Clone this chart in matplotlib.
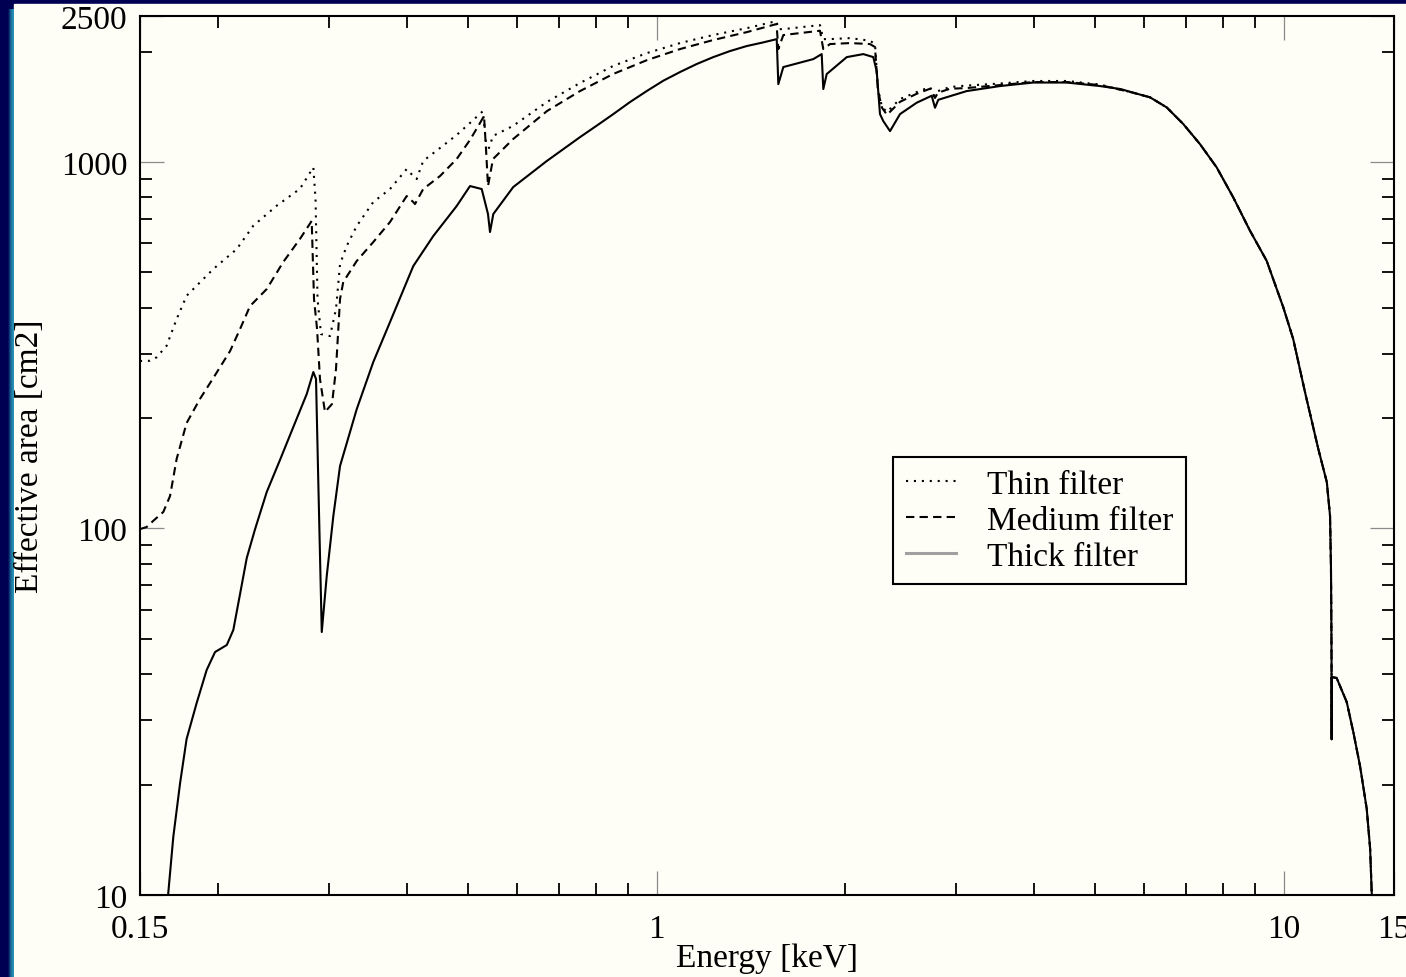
import numpy as np
import matplotlib
matplotlib.use("Agg")
import matplotlib.pyplot as plt
from matplotlib.patches import Rectangle
from matplotlib.ticker import FixedLocator, NullFormatter
from matplotlib.colors import LinearSegmentedColormap

# ---------------- data (energy keV, effective area cm2) ----------------
# high-energy part where the three curves coincide
E_tail = [5.758, 6.123, 6.510, 6.919, 7.356, 7.821, 8.312, 8.839, 9.398, 9.989,
          10.36, 10.82, 11.36, 11.72, 11.86, 11.90, 11.92, 11.925, 11.93, 11.935,
          12.15, 12.61, 12.92, 13.24, 13.57, 13.74, 13.82, 13.90]
A_tail = [1544, 1500, 1408, 1268, 1118, 966, 800, 649, 537, 401,
          328.5, 235.1, 164.7, 133.8, 108.1, 79.0, 52.2, 44.0, 26.6, 39.3,
          39.1, 33.6, 27.8, 22.5, 17.2, 13.4, 10.2, 8.5]

E_thin = [0.15, 0.1556, 0.1594, 0.1654, 0.1716, 0.1780, 0.1963, 0.2140, 0.2274, 0.2478,
          0.2699, 0.2835, 0.2858, 0.2879, 0.2916, 0.3014, 0.3081, 0.3127, 0.3204, 0.3324,
          0.3533, 0.3757, 0.3994, 0.4092, 0.4143, 0.4244, 0.4514, 0.4799, 0.5040, 0.5286,
          0.5344, 0.5404, 0.5484, 0.5901, 0.6686, 0.7548, 0.8521, 0.9654, 1.0898, 1.2301,
          1.3940, 1.5534, 1.5637, 1.5927, 1.8223, 1.8445, 1.8904, 2.0350, 2.1895, 2.2301,
          2.2548, 2.2882, 2.3306, 2.4448, 2.5991, 2.7294, 2.7799, 2.8107, 2.9374, 3.1231,
          3.5294, 3.9849, 4.5148, 5.0950]
A_thin = [286.2, 286.7, 292.9, 315.0, 372.5, 431.3, 510.0, 578.3, 669.5, 759.2,
          844.4, 966.0, 790.6, 422.5, 339.0, 334.8, 396.8, 526.2, 589.2, 668.2,
          777.0, 843.1, 955.8, 914.7, 897.6, 1006, 1091, 1184, 1277, 1376,
          1126, 1091, 1177, 1253, 1457, 1641, 1826, 1981, 2109, 2218,
          2317, 2421, 2302, 2302, 2361, 2162, 2162, 2176, 2140, 2096,
          1580, 1411, 1368, 1484, 1550, 1600, 1511, 1560, 1600, 1615,
          1636, 1662, 1662, 1625]

E_medium = [0.15, 0.1537, 0.1574, 0.1634, 0.1675, 0.1716, 0.1780, 0.1869, 0.1963, 0.2088,
            0.2166, 0.2247, 0.2389, 0.2538, 0.2699, 0.2818, 0.2842, 0.2874, 0.2905, 0.2959,
            0.3036, 0.3081, 0.3127, 0.3164, 0.3324, 0.3533, 0.3757, 0.3994, 0.4092, 0.4118,
            0.4244, 0.4514, 0.4799, 0.5040, 0.5229, 0.5306, 0.5344, 0.5384, 0.5484, 0.5901,
            0.6686, 0.7548, 0.8521, 0.9654, 1.0898, 1.2301, 1.3940, 1.5534, 1.5637, 1.5927,
            1.8223, 1.8445, 1.8904, 2.0350, 2.1895, 2.2301, 2.2548, 2.2882, 2.3306, 2.4448,
            2.5991, 2.7294, 2.7799, 2.8107, 2.9374, 3.1231, 3.5294, 3.9849, 4.5148, 5.0950]
A_medium = [99.6, 100.9, 104.8, 110.9, 122.6, 154.7, 193.9, 225.4, 257.2, 304.7,
            349.9, 404.3, 449.8, 532.9, 616.3, 690.1, 422.5, 349.9, 255.6, 207.8,
            218.5, 272.2, 422.5, 470.0, 536.3, 604.3, 685.4, 806.9, 777.0, 767.3,
            843.1, 914.7, 1018, 1148, 1277, 1334, 1091, 859.1, 1018, 1153,
            1376, 1560, 1736, 1895, 2031, 2149, 2260, 2377, 2031, 2218,
            2279, 2031, 2096, 2109, 2096, 2057, 1560, 1405, 1344, 1458,
            1534, 1583, 1494, 1544, 1583, 1590, 1620, 1651, 1651, 1620]

E_thick = [0.1650, 0.1663, 0.1695, 0.1738, 0.1780, 0.1847, 0.1916, 0.1976, 0.2063, 0.2113,
           0.2166, 0.2220, 0.2289, 0.2389, 0.2508, 0.2634, 0.2767, 0.2835, 0.2863, 0.2884,
           0.2924, 0.2978, 0.3051, 0.3127, 0.3324, 0.3533, 0.3757, 0.4092, 0.4404, 0.4799,
           0.5040, 0.5261, 0.5384, 0.5424, 0.5490, 0.5907, 0.6282, 0.6679, 0.7098, 0.7548,
           0.8024, 0.8530, 0.9070, 0.9643, 1.0250, 1.0898, 1.1587, 1.2314, 1.3095, 1.3925,
           1.4796, 1.5545, 1.5637, 1.5927, 1.7780, 1.8337, 1.8445, 1.8677,
           2.0105, 2.1365, 2.2163, 2.2441, 2.2714, 2.2991, 2.3567, 2.4448, 2.5991, 2.7464,
           2.7799, 2.8138, 3.1231, 3.5294, 3.9893, 4.5098, 5.0950, 5.4974]
A_thick = [9.0, 10.0, 14.39, 20.21, 26.64, 33.40, 41.09, 46.01, 48.08, 52.83,
           66.23, 83.05, 99.6, 125.7, 153.7, 189.1, 232.6, 267.1, 255.6, 145.2,
           52.17, 74.17, 108.1, 148.0, 211.3, 284.4, 365.6, 519.6, 627.6, 757.7,
           859.1, 843.1, 720.6, 643.6, 720.6, 853.7, 926.3, 1005, 1083, 1168,
           1255, 1350, 1456, 1560, 1665, 1758, 1849, 1931, 2006, 2070,
           2118, 2162, 1630, 1814, 1907, 1968, 1580, 1736,
           1931, 1968, 1931, 1769, 1350, 1292, 1213, 1350, 1450, 1515,
           1405, 1477, 1560, 1610, 1646, 1646, 1610, 1580]

labels = ["Thin filter", "Medium filter", "Thick filter"]
x_ticks = [0.15, 1, 10, 15]
x_ticklabels = ["0.15", "1", "10", "15"]
y_ticks = [10, 100, 1000, 2500]
y_ticklabels = ["10", "100", "1000", "2500"]

# ---------------- figure ----------------
W, H = 1406, 978
cream = "#FEFEF6"
navy = "#000052"
plt.rcParams['font.family'] = ['Liberation Serif', 'DejaVu Serif']
FS = 24

fig = plt.figure(figsize=(W / 100, H / 100), dpi=100, facecolor=navy)
fig.patches.append(Rectangle((13.5 / W, 0), 1 - 13.5 / W, (H - 5) / H,
                             transform=fig.transFigure, color=cream, zorder=-5))
# teal gradient strip on the left
gax = fig.add_axes([8 / W, 0, 6 / W, (H - 10) / H])
grad = np.linspace(0, 1, 64).reshape(1, -1)
cmap = LinearSegmentedColormap.from_list("edge", [navy, "#1c6f9c", "#2a9cb8"])
gax.imshow(grad, aspect="auto", cmap=cmap)
gax.set_axis_off()

ax = fig.add_axes([140 / W, 1 - 896 / H, (1394 - 140) / W, (896 - 17) / H])
ax.set_facecolor(cream)
ax.set_xscale("log")
ax.set_yscale("log")

lw = 1.5
ax.plot(E_thin + E_tail, A_thin + A_tail, color="black", lw=lw,
        linestyle=(0, (1.0, 2.8)), label=labels[0])
ax.plot(E_medium + E_tail, A_medium + A_tail, color="black", lw=lw,
        linestyle=(0, (4.0, 2.5)), label=labels[1])
ax.plot(E_thick + E_tail, A_thick + A_tail, color="black", lw=lw,
        linestyle="-", label=labels[2])

ax.set_xlim(0.15, 15)
ax.set_ylim(10, 2500)

ax.xaxis.set_major_locator(FixedLocator(x_ticks))
ax.set_xticklabels(x_ticklabels)
ax.xaxis.set_minor_locator(FixedLocator([0.2, 0.3, 0.4, 0.5, 0.6, 0.7, 0.8, 0.9,
                                         2, 3, 4, 5, 6, 7, 8, 9]))
ax.xaxis.set_minor_formatter(NullFormatter())
ax.yaxis.set_major_locator(FixedLocator(y_ticks))
ax.set_yticklabels(y_ticklabels)
ax.yaxis.set_minor_locator(FixedLocator([20, 30, 40, 50, 60, 70, 80, 90,
                                         200, 300, 400, 500, 600, 700, 800, 900, 2000]))
ax.yaxis.set_minor_formatter(NullFormatter())

ax.tick_params(which="both", direction="in", top=True, right=True)
ax.tick_params(which="major", length=17, width=0.9, color="#8a8a8a",
               labelsize=FS, labelcolor="black")
ax.tick_params(which="minor", length=8.5, width=1.3, color="black")
ax.tick_params(axis="x", which="major", pad=13)
ax.tick_params(axis="y", which="major", pad=9)

for s in ax.spines.values():
    s.set_linewidth(1.5)
    s.set_color("black")

ax.set_xlabel("Energy [keV]", fontsize=FS)
ax.set_ylabel("Effective area [cm2]", fontsize=FS)
ax.xaxis.set_label_coords(0.5, -0.054)
ax.yaxis.set_label_coords(-0.076, 0.5)

leg = ax.legend(loc="upper left", bbox_to_anchor=(0.6005, 0.4983), borderaxespad=0,
                fontsize=FS, fancybox=False, framealpha=1, facecolor=cream,
                edgecolor="black", handlelength=1.5, handletextpad=0.95,
                labelspacing=0.16, borderpad=0.38)
leg.get_frame().set_linewidth(1.5)
leg_lines = leg.get_lines()
leg_lines[2].set_color("#a0a0a0")
leg_lines[2].set_linewidth(2.2)

fig.savefig("out.png", dpi=100, facecolor=navy)
